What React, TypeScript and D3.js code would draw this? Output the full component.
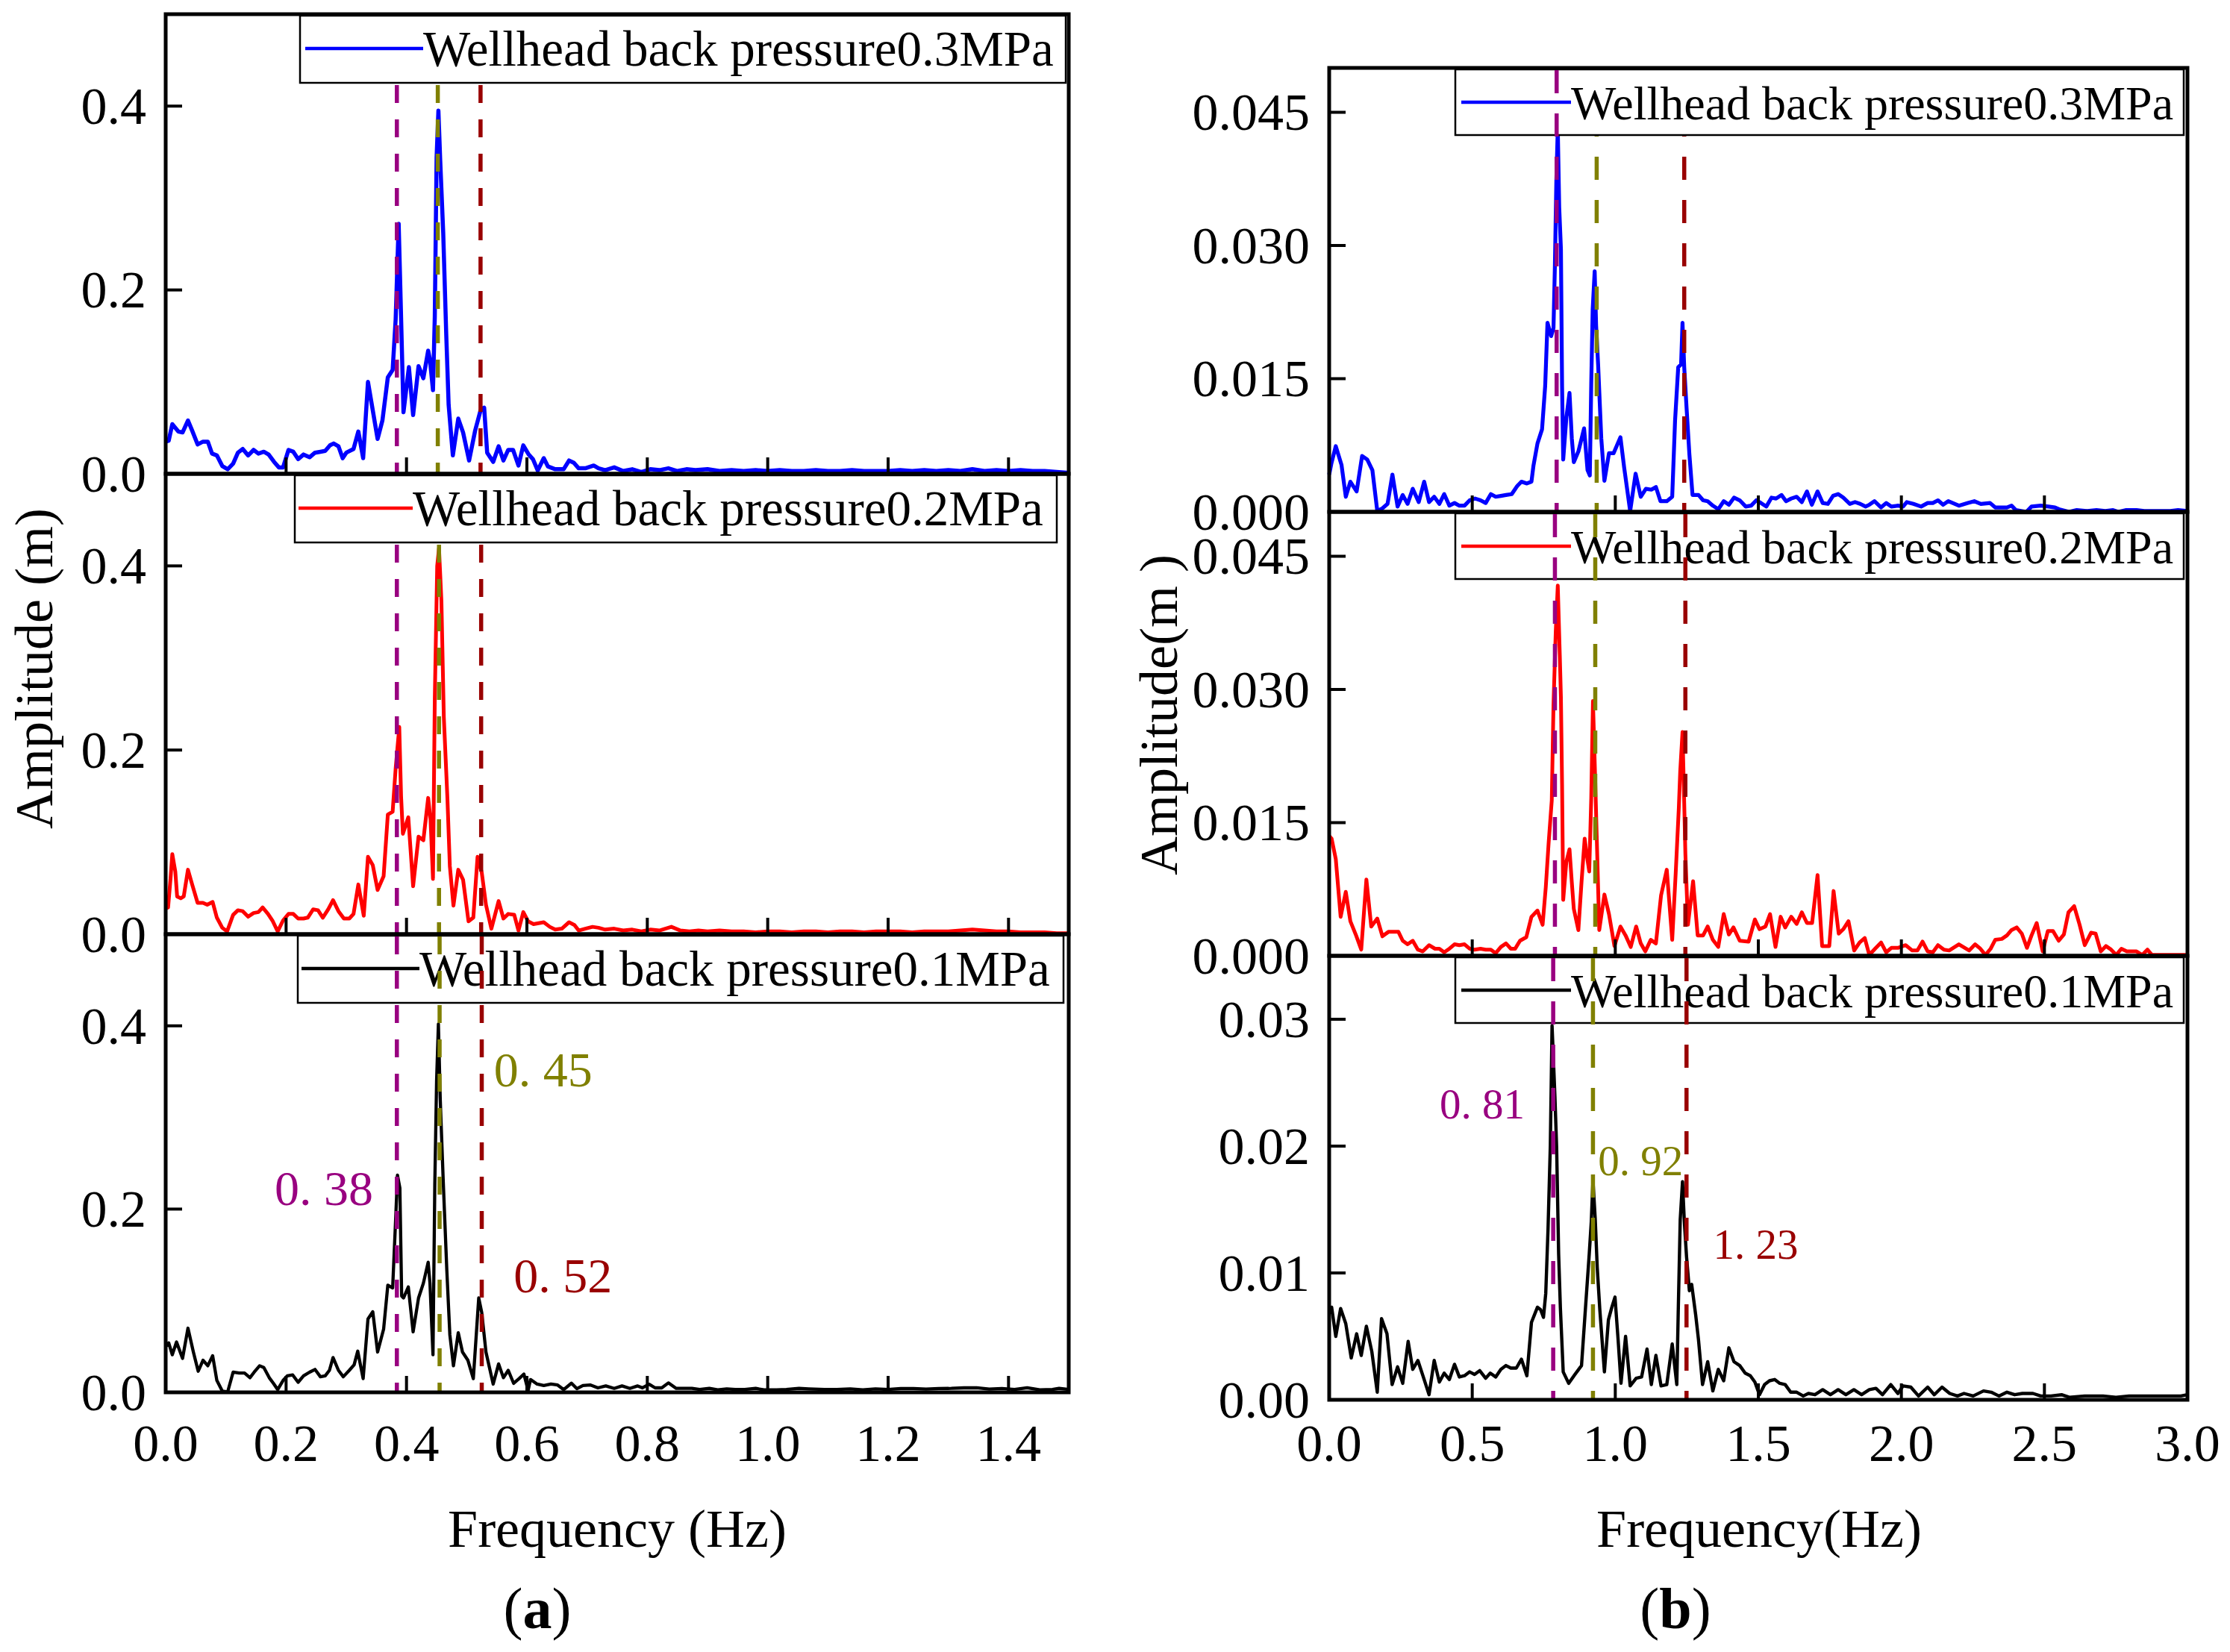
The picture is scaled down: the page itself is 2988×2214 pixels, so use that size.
import React from 'react'
import * as d3 from 'd3'

type Pt = [number, number]

// ---- panel (a) spectra: [frequency Hz, amplitude m]
const spec03a: Pt[] = [
  [0, .035], [.005, .036], [.011, .054], [.021, .046], [.028, .045], [.037, .058], [.044, .047], [.053, .032], [.062, .035], [.070, .035],
  [.077, .022], [.085, .020], [.094, .0085], [.103, .005], [.112, .011], [.120, .023], [.128, .027], [.137, .020], [.146, .026], [.154, .022],
  [.163, .024], [.171, .021], [.180, .013], [.188, .007], [.195, .007], [.204, .026], [.212, .024], [.220, .016], [.229, .021], [.239, .018],
  [.248, .023], [.257, .024], [.265, .025], [.273, .031], [.279, .033], [.287, .030], [.294, .017], [.300, .023], [.312, .027], [.320, .046],
  [.328, .017], [.336, .100], [.344, .069], [.352, .038], [.360, .058], [.369, .105], [.377, .113], [.382, .168], [.387, .272], [.390, .196],
  [.395, .067], [.404, .116], [.411, .064], [.420, .117], [.428, .104], [.436, .134], [.439, .124], [.444, .091], [.447, .171], [.450, .344],
  [.453, .395], [.456, .341], [.461, .262], [.466, .152], [.470, .075], [.477, .020], [.486, .060], [.494, .045], [.504, .0145], [.514, .047],
  [.523, .069], [.529, .072], [.534, .023], [.544, .013], [.553, .030], [.561, .0145], [.569, .026], [.577, .026], [.586, .009], [.594, .031],
  [.603, .021], [.610, .016], [.618, .0036], [.628, .017], [.635, .008], [.647, .005], [.661, .005], [.670, .0145], [.678, .012], [.686, .006],
  [.697, .006], [.711, .009], [.719, .006], [.73, .004], [.745, .007], [.76, .003], [.775, .005], [.79, .002], [.805, .005], [.82, .004],
  [.835, .006], [.85, .003], [.865, .005], [.88, .004], [.9, .005], [.92, .003], [.94, .004], [.96, .003], [.98, .004], [1.0, .003],
  [1.02, .004], [1.04, .003], [1.06, .003], [1.08, .004], [1.1, .003], [1.12, .003], [1.14, .004], [1.16, .003], [1.18, .003], [1.2, .003],
  [1.22, .004], [1.24, .003], [1.26, .004], [1.28, .003], [1.3, .004], [1.32, .003], [1.34, .005], [1.36, .003], [1.38, .004], [1.4, .003],
  [1.42, .004], [1.44, .003], [1.46, .003], [1.48, .002], [1.5, .001],
]

const spec02a: Pt[] = [
  [0, .028], [.004, .029], [.008, .060], [.011, .087], [.016, .068], [.019, .041], [.025, .039], [.030, .041], [.037, .070], [.044, .054],
  [.053, .034], [.062, .034], [.069, .032], [.078, .035], [.085, .018], [.094, .007], [.102, .003], [.112, .021], [.120, .026], [.128, .025],
  [.137, .019], [.146, .023], [.154, .024], [.161, .029], [.170, .022], [.178, .014], [.186, .003], [.195, .015], [.204, .022], [.212, .022],
  [.220, .017], [.229, .017], [.236, .018], [.245, .027], [.253, .026], [.261, .018], [.270, .027], [.278, .037], [.287, .025], [.296, .017],
  [.305, .017], [.312, .022], [.320, .054], [.329, .020], [.336, .084], [.344, .075], [.352, .048], [.362, .063], [.369, .130], [.377, .133],
  [.382, .180], [.388, .225], [.391, .150], [.394, .109], [.403, .127], [.411, .052], [.420, .106], [.428, .102], [.436, .148], [.440, .124],
  [.444, .060], [.447, .256], [.451, .400], [.454, .419], [.458, .362], [.462, .236], [.468, .147], [.472, .074], [.478, .031], [.486, .070],
  [.494, .059], [.503, .014], [.511, .018], [.518, .084], [.525, .067], [.532, .032], [.541, .006], [.553, .036], [.561, .017], [.569, .022],
  [.579, .021], [.586, .004], [.594, .024], [.602, .014], [.611, .011], [.628, .013], [.638, .008], [.647, .005], [.658, .006], [.670, .013],
  [.679, .010], [.686, .004], [.697, .006], [.709, .008], [.719, .007], [.73, .005], [.745, .006], [.76, .004], [.775, .005], [.79, .003],
  [.805, .005], [.82, .004], [.84, .008], [.855, .004], [.87, .003], [.885, .004], [.9, .003], [.92, .004], [.94, .003], [.96, .003],
  [.98, .002], [1.0, .003], [1.02, .003], [1.04, .002], [1.06, .003], [1.08, .003], [1.1, .002], [1.12, .003], [1.14, .003], [1.16, .002],
  [1.18, .003], [1.2, .003], [1.22, .003], [1.24, .002], [1.26, .003], [1.28, .003], [1.3, .003], [1.32, .004], [1.34, .005], [1.36, .004],
  [1.38, .003], [1.4, .003], [1.42, .002], [1.44, .002], [1.46, .002], [1.48, .001], [1.5, .001],
]

const spec01a: Pt[] = [
  [0, .05], [.005, .054], [.011, .041], [.018, .055], [.028, .037], [.037, .070], [.046, .044], [.054, .023], [.062, .035], [.070, .029],
  [.078, .040], [.085, .013], [.094, .0014], [.103, .0006], [.112, .022], [.122, .021], [.131, .021], [.140, .016], [.147, .022], [.156, .029],
  [.163, .027], [.172, .016], [.179, .0098], [.186, .003], [.195, .013], [.202, .018], [.211, .019], [.220, .011], [.229, .018], [.239, .022],
  [.248, .025], [.257, .017], [.265, .018], [.272, .024], [.278, .038], [.287, .024], [.295, .017], [.305, .024], [.313, .030], [.319, .045],
  [.328, .015], [.336, .080], [.344, .088], [.352, .044], [.362, .069], [.369, .117], [.377, .114], [.382, .189], [.385, .237], [.389, .223],
  [.392, .105], [.395, .103], [.403, .115], [.411, .066], [.420, .103], [.428, .119], [.436, .142], [.439, .119], [.444, .041], [.447, .226],
  [.450, .340], [.453, .402], [.456, .321], [.461, .231], [.467, .133], [.472, .063], [.478, .029], [.486, .065], [.493, .044], [.502, .035],
  [.511, .015], [.520, .103], [.525, .087], [.532, .044], [.544, .009], [.553, .031], [.561, .016], [.569, .024], [.578, .0098], [.587, .015],
  [.595, .020], [.602, .002], [.606, .014], [.617, .009], [.628, .0075], [.640, .009], [.651, .008], [.661, .003], [.674, .010], [.683, .004],
  [.693, .0075], [.705, .0081], [.718, .0049], [.731, .0070], [.745, .0043], [.758, .0070], [.771, .0043], [.784, .0070], [.792, .0049], [.803, .0089],
  [.813, .0049], [.824, .0049], [.835, .0103], [.848, .0043], [.861, .0043], [.874, .0043], [.887, .0032], [.903, .0043], [.917, .0027], [.932, .0038],
  [.946, .0032], [.962, .0032], [.980, .0043], [.994, .0027], [1.015, .0027], [1.031, .0032], [1.052, .0043], [1.068, .0038], [1.094, .0032], [1.115, .0032],
  [1.137, .0038], [1.158, .0027], [1.179, .0038], [1.200, .0032], [1.221, .0041], [1.242, .0041], [1.263, .0035], [1.284, .0041], [1.305, .0043], [1.326, .0049],
  [1.347, .0049], [1.368, .0035], [1.389, .0041], [1.410, .0032], [1.431, .0049], [1.452, .0027], [1.473, .0032], [1.484, .0043], [1.5, .0032],
]

// ---- panel (b) spectra
const spec03b: Pt[] = [
  [0, .0042], [.008, .0055], [.023, .0074], [.043, .0053], [.058, .0017], [.074, .0034], [.096, .0023], [.115, .0063], [.133, .0059], [.151, .0047],
  [.168, .0001], [.186, .0004], [.204, .0009], [.221, .0042], [.239, .0006], [.257, .0019], [.274, .0009], [.292, .0026], [.313, .0011], [.332, .0034],
  [.349, .0011], [.367, .0017], [.385, .0009], [.402, .0020], [.420, .0007], [.438, .0010], [.455, .0007], [.473, .0007], [.491, .0013], [.510, .0015],
  [.529, .0013], [.547, .0010], [.565, .0020], [.582, .0017], [.600, .0018], [.618, .0019], [.638, .0020], [.657, .0029], [.672, .0034], [.691, .0032],
  [.707, .0034], [.714, .0052], [.728, .0077], [.744, .0093], [.755, .0142], [.763, .0213], [.776, .0198], [.784, .0207], [.789, .0278], [.794, .0373],
  [.799, .0432], [.804, .0343], [.810, .0296], [.814, .0142], [.818, .0059], [.829, .0106], [.840, .0134], [.848, .0083], [.855, .0056], [.871, .0068],
  [.891, .0094], [.903, .0047], [.911, .0041], [.916, .0145], [.921, .0228], [.928, .0271], [.933, .0210], [.940, .0166], [.951, .0083], [.962, .0035],
  [.978, .0066], [.994, .0066], [1.018, .0084], [1.031, .0050], [1.052, .0001], [1.071, .0043], [1.089, .0017], [1.107, .0026], [1.126, .0025], [1.142, .0028],
  [1.158, .0012], [1.180, .0012], [1.199, .0017], [1.209, .0103], [1.220, .0163], [1.230, .0166], [1.235, .0213], [1.241, .0163], [1.249, .0118], [1.259, .0065],
  [1.270, .0019], [1.291, .0019], [1.307, .0013], [1.323, .0012], [1.341, .0007], [1.360, .0003], [1.379, .0012], [1.397, .0008], [1.415, .0016], [1.435, .0013],
  [1.456, .0006], [1.475, .0007], [1.493, .0013], [1.509, .0010], [1.528, .0006], [1.546, .0016], [1.562, .0015], [1.581, .0019], [1.597, .0012], [1.615, .0015],
  [1.634, .0017], [1.652, .0011], [1.670, .0023], [1.687, .0008], [1.707, .0023], [1.725, .0010], [1.743, .0009], [1.761, .0018], [1.779, .0020], [1.797, .0016],
  [1.820, .0009], [1.838, .0011], [1.856, .0009], [1.875, .0006], [1.888, .0008], [1.906, .0012], [1.929, .0005], [1.947, .0010], [1.965, .0006], [1.988, .0007],
  [2.006, .0006], [2.019, .0011], [2.042, .0009], [2.069, .0006], [2.092, .0010], [2.110, .0010], [2.128, .0013], [2.146, .0008], [2.164, .0012], [2.201, .0007],
  [2.233, .0010], [2.255, .0012], [2.278, .0009], [2.310, .0010], [2.328, .0005], [2.369, .0005], [2.385, .0007], [2.400, .0002], [2.437, .0000], [2.455, .0006],
  [2.487, .0007], [2.514, .0006], [2.537, .0005], [2.551, .0003], [2.586, .0000], [2.613, .0002], [2.650, .0001], [2.682, .0002], [2.713, .0001], [2.740, .0002],
  [2.758, .0000], [2.786, .0002], [2.822, .0002], [2.849, .0001], [2.886, .0001], [2.940, .0001], [2.967, .0002], [3.0, .0001],
]

const spec02b: Pt[] = [
  [0, .0135], [.0085, .0132], [.023, .0109], [.040, .0044], [.058, .0072], [.074, .0039], [.094, .0023], [.112, .0007], [.130, .0086], [.147, .0033],
  [.168, .0042], [.186, .0022], [.207, .0027], [.242, .0027], [.257, .0017], [.274, .0013], [.292, .0017], [.310, .0007], [.327, .0005], [.349, .0012],
  [.370, .0008], [.385, .0008], [.402, .0004], [.420, .0008], [.438, .0013], [.455, .0012], [.473, .0013], [.491, .0008], [.508, .0007], [.529, .0008],
  [.547, .0007], [.565, .0007], [.582, .0003], [.600, .0010], [.618, .0014], [.635, .0008], [.650, .0008], [.667, .0017], [.689, .0021], [.707, .0044],
  [.728, .0051], [.746, .0035], [.757, .0077], [.767, .0127], [.778, .0175], [.784, .0282], [.792, .0366], [.799, .0417], [.806, .0339], [.810, .0291],
  [.814, .0193], [.818, .0063], [.829, .0106], [.840, .0120], [.848, .0083], [.855, .0053], [.871, .0029], [.882, .0083], [.893, .0132], [.901, .0112],
  [.909, .0095], [.916, .0178], [.922, .0287], [.930, .0196], [.935, .0136], [.944, .0029], [.962, .0069], [.978, .0047], [.997, .0011], [1.018, .0033],
  [1.036, .0023], [1.054, .0010], [1.073, .0033], [1.089, .0014], [1.105, .0005], [1.124, .0018], [1.142, .0014], [1.160, .0068], [1.180, .0097], [1.199, .0018],
  [1.211, .0092], [1.222, .0166], [1.227, .0208], [1.235, .0252], [1.241, .0172], [1.245, .0115], [1.254, .0035], [1.272, .0084], [1.288, .0023], [1.307, .0023],
  [1.323, .0033], [1.341, .0018], [1.360, .0010], [1.379, .0047], [1.397, .0024], [1.413, .0032], [1.435, .0017], [1.466, .0016], [1.488, .0041], [1.504, .0030],
  [1.525, .0033], [1.541, .0047], [1.560, .0010], [1.578, .0044], [1.594, .0032], [1.615, .0044], [1.634, .0036], [1.652, .0049], [1.670, .0037], [1.688, .0037],
  [1.707, .0091], [1.723, .0011], [1.748, .0011], [1.763, .0073], [1.781, .0025], [1.797, .0030], [1.815, .0039], [1.835, .0006], [1.854, .0015], [1.872, .0020],
  [1.888, .0001], [1.908, .0008], [1.929, .0015], [1.947, .0004], [1.965, .0009], [1.988, .0009], [2.015, .0012], [2.038, .0006], [2.056, .0006], [2.074, .0016],
  [2.092, .0005], [2.110, .0004], [2.128, .0012], [2.149, .0007], [2.167, .0006], [2.201, .0013], [2.237, .0006], [2.258, .0013], [2.276, .0008], [2.294, .0001],
  [2.312, .0008], [2.328, .0018], [2.351, .0019], [2.369, .0023], [2.385, .0029], [2.403, .0032], [2.421, .0025], [2.439, .0009], [2.455, .0023], [2.473, .0037],
  [2.494, .0005], [2.512, .0028], [2.530, .0028], [2.550, .0017], [2.568, .0024], [2.584, .0049], [2.604, .0056], [2.623, .0035], [2.641, .0012], [2.663, .0026],
  [2.679, .0025], [2.697, .0005], [2.715, .0011], [2.733, .0007], [2.751, .0001], [2.769, .0008], [2.788, .0005], [2.822, .0005], [2.842, .0001], [2.860, .0007],
  [2.876, .0001], [2.931, .0001], [3.0, .0001],
]

const spec01b: Pt[] = [
  [0, .0068], [.0085, .0073], [.023, .0050], [.040, .0072], [.058, .0060], [.077, .0033], [.096, .0052], [.112, .0035], [.130, .0058], [.149, .0038],
  [.168, .0006], [.183, .0064], [.202, .0052], [.220, .0012], [.239, .0026], [.257, .0013], [.276, .0046], [.292, .0024], [.310, .0031], [.329, .0018],
  [.349, .0004], [.367, .0031], [.385, .0014], [.402, .0021], [.420, .0016], [.438, .0028], [.455, .0018], [.473, .0019], [.491, .0022], [.508, .0020],
  [.526, .0023], [.547, .0017], [.563, .0021], [.582, .0018], [.600, .0024], [.618, .0027], [.635, .0025], [.654, .0025], [.672, .0032], [.691, .0019],
  [.707, .0061], [.728, .0073], [.739, .0071], [.749, .0065], [.757, .0084], [.765, .0135], [.773, .0201], [.779, .0295], [.784, .0267], [.789, .0239],
  [.795, .0199], [.802, .0115], [.808, .0073], [.818, .0022], [.837, .0013], [.859, .0020], [.882, .0027], [.896, .0073], [.909, .0115], [.916, .0140],
  [.922, .0173], [.930, .0142], [.937, .0104], [.946, .0071], [.962, .0022], [.976, .0063], [.988, .0073], [.999, .0081], [1.010, .0047], [1.020, .0013],
  [1.036, .0050], [1.052, .0011], [1.073, .0017], [1.092, .0018], [1.111, .0040], [1.126, .0012], [1.142, .0035], [1.160, .0011], [1.180, .0012], [1.199, .0044],
  [1.215, .0012], [1.220, .0069], [1.227, .0142], [1.235, .0172], [1.241, .0142], [1.249, .0113], [1.259, .0086], [1.267, .0091], [1.281, .0067], [1.291, .0047],
  [1.305, .0012], [1.323, .0030], [1.341, .0007], [1.360, .0024], [1.379, .0015], [1.397, .0041], [1.415, .0030], [1.435, .0027], [1.454, .0021], [1.472, .0019],
  [1.488, .0014], [1.504, .0004], [1.522, .0012], [1.539, .0015], [1.557, .0016], [1.575, .0013], [1.594, .0012], [1.613, .0006], [1.634, .0006], [1.657, .0003],
  [1.675, .0005], [1.698, .0004], [1.725, .0008], [1.752, .0004], [1.779, .0008], [1.806, .0004], [1.834, .0008], [1.861, .0004], [1.888, .0008], [1.911, .0009],
  [1.934, .0004], [1.963, .0012], [1.988, .0005], [2.006, .0011], [2.033, .0010], [2.060, .0003], [2.092, .0010], [2.115, .0004], [2.142, .0010], [2.169, .0005],
  [2.196, .0003], [2.219, .0005], [2.251, .0003], [2.287, .0007], [2.314, .0006], [2.341, .0003], [2.369, .0006], [2.396, .0004], [2.423, .0005], [2.460, .0005],
  [2.487, .0003], [2.523, .0003], [2.560, .0004], [2.587, .0002], [2.641, .0003], [2.705, .0003], [2.750, .0002], [2.796, .0003], [2.850, .0003], [2.904, .0003],
  [2.977, .0003], [3.0, .0004],
]

// ---- ticks, labels, marker lines
const xTicksA = [0, 0.2, 0.4, 0.6, 0.8, 1.0, 1.2, 1.4]
const xTicksB = [0, 0.5, 1.0, 1.5, 2.0, 2.5, 3.0]
const yTicksA = [0, 0.2, 0.4]
const yTicksB = [0, 0.015, 0.03, 0.045]
const yTicksB3 = [0, 0.01, 0.02, 0.03]
const legendLabels = ['Wellhead back pressure0.3MPa', 'Wellhead back pressure0.2MPa', 'Wellhead back pressure0.1MPa']

// marker frequency per subplot: [purple, olive, wine]
const markA = [[0.384, 0.452, 0.523], [0.384, 0.454, 0.524], [0.384, 0.455, 0.525]]
const markB = [[0.795, 0.935, 1.241], [0.789, 0.930, 1.245], [0.783, 0.922, 1.249]]
// annotation texts with anchor [f, amplitude]
const notesA: { text: string; f: number; a: number }[] = [
  { text: '0. 38', f: 0.181, a: 0.204 },
  { text: '0. 45', f: 0.545, a: 0.334 },
  { text: '0. 52', f: 0.578, a: 0.109 },
]
const notesB: { text: string; f: number; a: number }[] = [
  { text: '0. 81', f: 0.386, a: 0.0222 },
  { text: '0. 92', f: 0.94, a: 0.0177 },
  { text: '1. 23', f: 1.342, a: 0.0111 },
]

const W = 2988
const H = 2214
const FONT = '"Liberation Serif", "Times New Roman", serif'
const MARK_COLORS = ['#990080', '#808000', '#990000']
const SERIES_COLORS = ['#0000ff', '#ff0000', '#000000']

interface SubCfg {
  top: number
  bottom: number
  yMax: number
  yTicks: number[]
  yFmt: (v: number) => string
  data: Pt[]
  lineW: number
  marks: number[]
  marksOver: boolean[]
  legend: { x0: number; x1: number; h: number; lx0: number; lx1: number; tx: number; fs: number }
}

interface PanelCfg {
  left: number
  right: number
  xMax: number
  xTicks: number[]
  xFmt: (v: number) => string
  xLabelY: number
  xTitle: string
  xTitleX: number
  yTitle: string
  yTitleX: number
  yTitleY: number
  tag: string
  tagX: number
  dash: string
  notes: { text: string; f: number; a: number }[]
  noteFs: number
  subs: SubCfg[]
}

const fmt1 = d3.format('.1f')
const fmt2 = d3.format('.2f')
const fmt3 = d3.format('.3f')

const legA = (x0: number, x1: number, lx0: number, lx1: number) => ({ x0, x1, h: 90, lx0, lx1, tx: lx1, fs: 67 })
const legB = { x0: 1950, x1: 2926, h: 88, lx0: 1958, lx1: 2105, tx: 2105, fs: 64 }

const panelA: PanelCfg = {
  left: 222, right: 1432, xMax: 1.5, xTicks: xTicksA, xFmt: fmt1, xLabelY: 1958,
  xTitle: 'Frequency (Hz)', xTitleX: 827, yTitle: 'Amplitude (m)', yTitleX: 70, yTitleY: 896,
  tag: 'a', tagX: 720, dash: '24,22', notes: notesA, noteFs: 66,
  subs: [
    { top: 19, bottom: 635, yMax: 0.5, yTicks: yTicksA, yFmt: fmt1, data: spec03a, lineW: 5.5, marks: markA[0], marksOver: [false, false, false], legend: legA(402, 1428, 409, 567) },
    { top: 635, bottom: 1252, yMax: 0.5, yTicks: yTicksA, yFmt: fmt1, data: spec02a, lineW: 5, marks: markA[1], marksOver: [false, false, false], legend: legA(395, 1416, 400, 553) },
    { top: 1252, bottom: 1866, yMax: 0.5, yTicks: yTicksA, yFmt: fmt1, data: spec01a, lineW: 4.3, marks: markA[2], marksOver: [true, true, true], legend: legA(399, 1425, 404, 562) },
  ],
}

const panelB: PanelCfg = {
  left: 1781, right: 2931, xMax: 3.0, xTicks: xTicksB, xFmt: fmt1, xLabelY: 1958,
  xTitle: 'Frequency(Hz)', xTitleX: 2357, yTitle: 'Amplitude(m )', yTitleX: 1577, yTitleY: 958,
  tag: 'b', tagX: 2245, dash: '31,27', notes: notesB, noteFs: 57,
  subs: [
    { top: 91, bottom: 686, yMax: 0.05, yTicks: yTicksB, yFmt: fmt3, data: spec03b, lineW: 5.2, marks: markB[0], marksOver: [true, false, false], legend: legB },
    { top: 686, bottom: 1281, yMax: 0.05, yTicks: yTicksB, yFmt: fmt3, data: spec02b, lineW: 5, marks: markB[1], marksOver: [true, true, true], legend: legB },
    { top: 1281, bottom: 1876, yMax: 0.035, yTicks: yTicksB3, yFmt: fmt2, data: spec01b, lineW: 4.4, marks: markB[2], marksOver: [true, true, true], legend: legB },
  ],
}

function Panel({ p }: { p: PanelCfg }) {
  const x = d3.scaleLinear().domain([0, p.xMax]).range([p.left, p.right])
  const last = p.subs.length - 1
  return (
    <g>
      {p.subs.map((s, i) => {
        const y = d3.scaleLinear().domain([0, s.yMax]).range([s.bottom, s.top])
        const line = d3.line<Pt>().x((d) => x(d[0])).y((d) => y(d[1]))
        const dashes = (over: boolean) =>
          s.marks.map((f, k) =>
            s.marksOver[k] === over ? (
              <line key={`m${k}`} x1={x(f)} x2={x(f)} y1={s.top + 3} y2={s.bottom} stroke={MARK_COLORS[k]} strokeWidth={5.5} strokeDasharray={p.dash} />
            ) : null,
          )
        const L = s.legend
        return (
          <g key={i}>
            <path d={line(s.data) || ''} fill="none" stroke={SERIES_COLORS[i]} strokeWidth={s.lineW} strokeLinejoin="round" />
            {dashes(false)}
            <rect x={L.x0} y={s.top + 2} width={L.x1 - L.x0} height={L.h} fill="#fff" stroke="#000" strokeWidth={2.5} />
            <line x1={L.lx0} x2={L.lx1} y1={s.top + 46} y2={s.top + 46} stroke={SERIES_COLORS[i]} strokeWidth={4.5} />
            <text x={L.tx} y={s.top + 69} fontFamily={FONT} fontSize={L.fs} fill="#000">{legendLabels[i]}</text>
            {dashes(true)}
            {/* ticks */}
            {p.xTicks.map((t) => (
              <line key={`xt${t}`} x1={x(t)} x2={x(t)} y1={s.bottom} y2={s.bottom - 22} stroke="#000" strokeWidth={4} />
            ))}
            {s.yTicks.map((t) => (
              <g key={`yt${t}`}>
                <line x1={p.left} x2={p.left + 22} y1={y(t)} y2={y(t)} stroke="#000" strokeWidth={4} />
                <text x={p.left - 26} y={y(t)} dy="0.34em" textAnchor="end" fontFamily={FONT} fontSize={70}>{s.yFmt(t)}</text>
              </g>
            ))}
            <rect x={p.left} y={s.top} width={p.right - p.left} height={s.bottom - s.top} fill="none" stroke="#000" strokeWidth={5} />
            {i === last &&
              p.notes.map((n, k) => (
                <text key={`n${k}`} x={x(n.f)} y={y(n.a)} fontFamily={FONT} fontSize={p.noteFs} fill={MARK_COLORS[k]}>{n.text}</text>
              ))}
            {i === last &&
              p.xTicks.map((t) => (
                <text key={`xl${t}`} x={x(t)} y={p.xLabelY} textAnchor="middle" fontFamily={FONT} fontSize={70}>{p.xFmt(t)}</text>
              ))}
          </g>
        )
      })}
      <text x={p.xTitleX} y={2073} textAnchor="middle" fontFamily={FONT} fontSize={72}>{p.xTitle}</text>
      <text transform={`translate(${p.yTitleX},${p.yTitleY}) rotate(-90)`} textAnchor="middle" fontFamily={FONT} fontSize={72}>{p.yTitle}</text>
      <text x={p.tagX} y={2182} textAnchor="middle" fontFamily={FONT} fontSize={78}>
        (<tspan fontWeight="bold">{p.tag}</tspan>)
      </text>
    </g>
  )
}

export default function App() {
  return (
    <svg width={W} height={H} viewBox={`0 0 ${W} ${H}`} style={{ position: 'absolute', left: 0, top: 0, background: '#fff' }}>
      <rect width={W} height={H} fill="#fff" />
      <Panel p={panelA} />
      <Panel p={panelB} />
    </svg>
  )
}
